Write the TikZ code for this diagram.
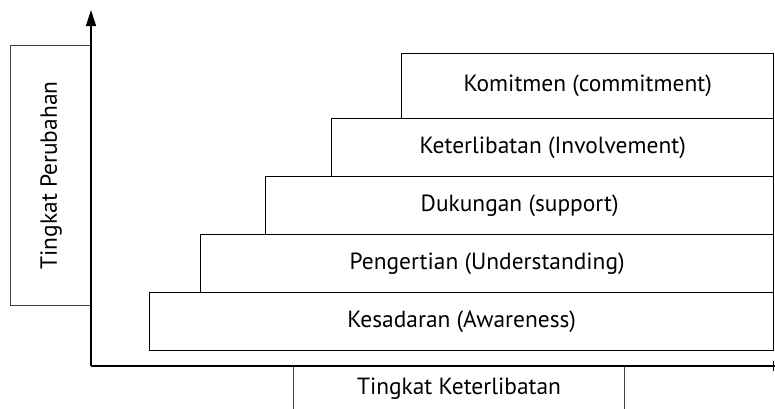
\documentclass[tikz,border=0pt]{standalone}
\usepackage{fontspec}
\setmainfont{PT Sans}
\usetikzlibrary{arrows.meta}
\begin{document}
\begin{tikzpicture}[x=1bp,y=-1bp,
  font=\fontsize{23.5}{27}\selectfont,
  stepbox/.style={draw=black,line width=1.3bp,anchor=north west,inner sep=0pt,align=center,fill=white},
  labelbox/.style={draw=black!75,line width=1bp,anchor=north west,inner sep=0pt,align=center},
  axis/.style={draw=black,line width=1.2bp}]
\useasboundingbox (0,0) rectangle (775,408);
% axis labels
\node[labelbox,minimum width=81bp,minimum height=260bp] (ylab) at (10,45) {};
\node[rotate=90] (ytext) at (ylab.center) {Tingkat Perubahan};
\node[labelbox,minimum width=331bp,minimum height=60bp] (xlab) at (293,366) {};
\node (xtext) at (459,389) {Tingkat Keterlibatan};
% axes
\coordinate (origin) at (91,366);
\coordinate (ytop) at (91,10);
\coordinate (xend) at (775,366);
\draw[axis,-{Triangle[length=16bp,width=10bp]}] (origin) -- (ytop);
\draw[axis] (origin) -- (xend);
\draw[line width=0.8bp] (773,361) -- (773,371);
% staircase
\node[stepbox,minimum width=624bp,minimum height=58bp] (s1) at (149,292) {Kesadaran (Awareness)};
\node[stepbox,minimum width=573bp,minimum height=58bp] (s2) at (200,234) {Pengertian (Understanding)};
\node[stepbox,minimum width=508bp,minimum height=58bp] (s3) at (265,176) {Dukungan (support)};
\node[stepbox,minimum width=442bp,minimum height=58bp] (s4) at (331,118) {Keterlibatan (Involvement)};
\node[stepbox,minimum width=372bp,minimum height=65bp] (s5) at (401,53) {Komitmen (commitment)};
\end{tikzpicture}
\end{document}
